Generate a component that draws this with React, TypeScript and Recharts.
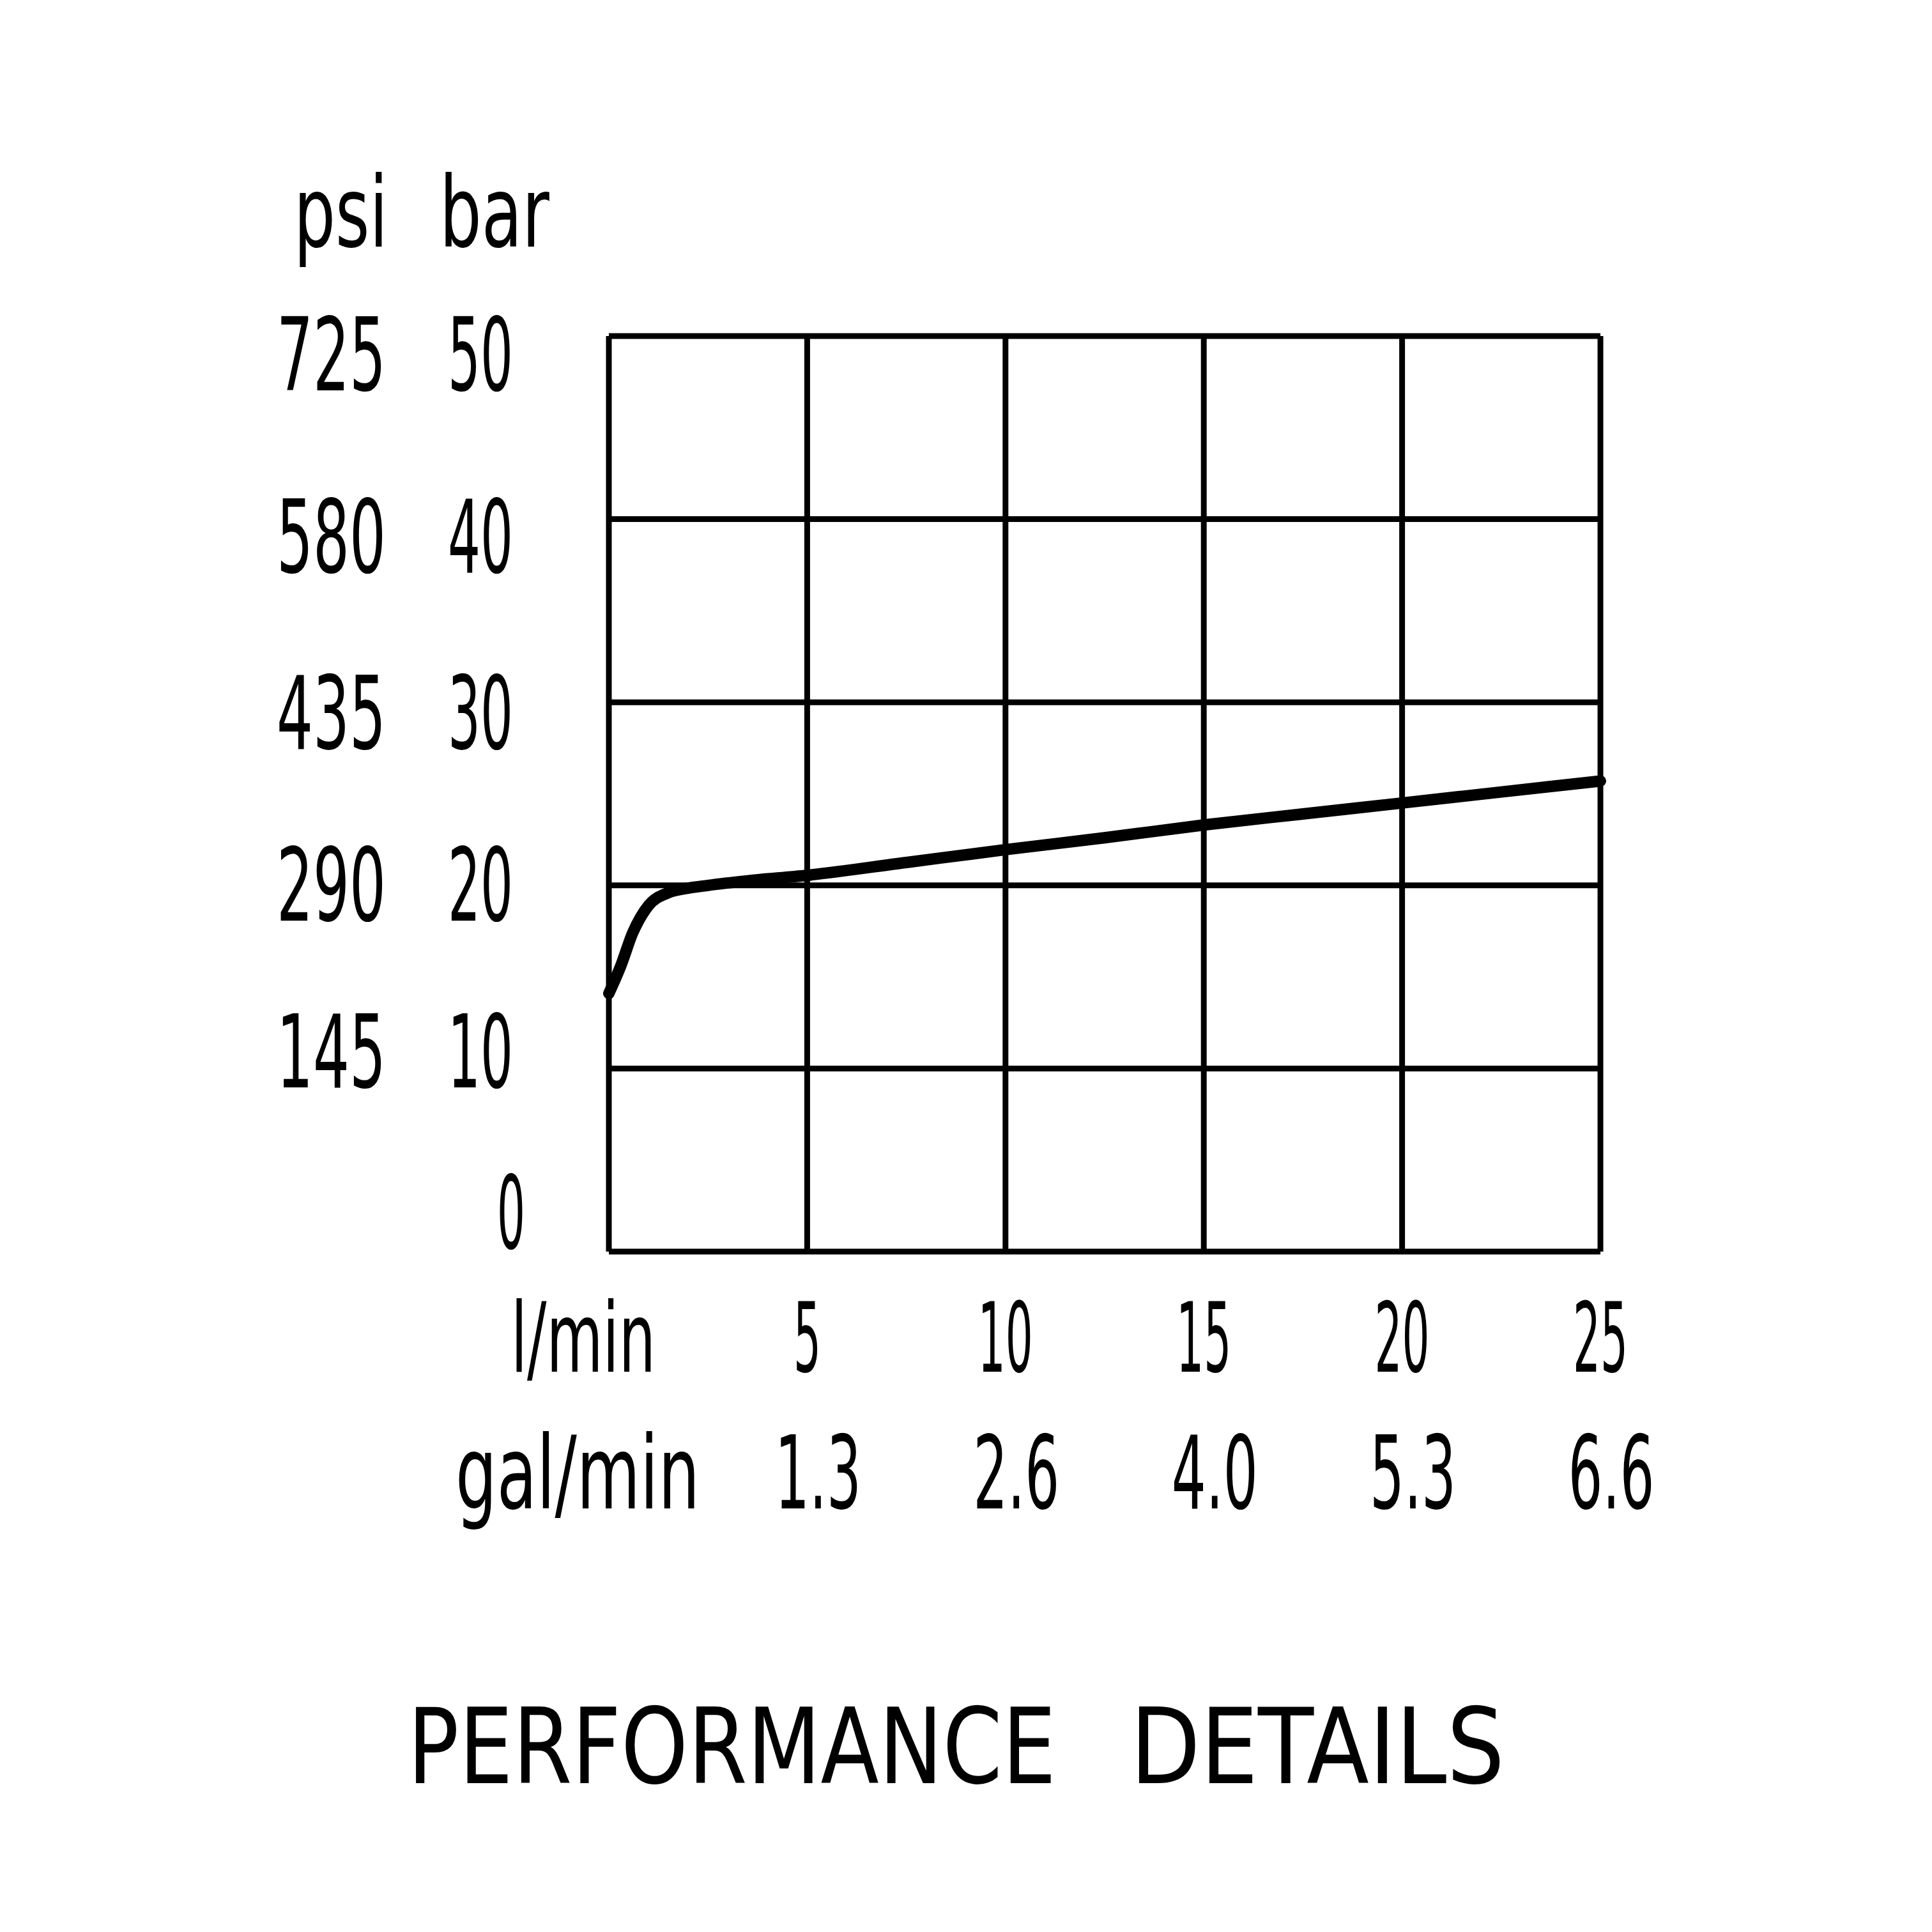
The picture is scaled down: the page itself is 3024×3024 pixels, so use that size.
import { LineChart, Line, XAxis, YAxis, CartesianGrid } from "recharts";

// flow in l/min, pressure in bar
const flow = [0, 0.3, 0.6, 1.0, 1.5, 2.0, 2.5, 3.5, 5, 7.5, 10, 12.5, 15, 17.5, 20, 22.5, 25];
const pressure = [14.1, 15.6, 17.4, 18.9, 19.6, 19.85, 20.0, 20.25, 20.55, 21.25, 21.95, 22.6, 23.3, 23.9, 24.5, 25.1, 25.7];

const flowTicks = [0, 5, 10, 15, 20, 25];
const lpmLabels = ["l/min", "5", "10", "15", "20", "25"];
const galLabels = ["gal/min", "1.3", "2.6", "4.0", "5.3", "6.6"];

const barTicks = [0, 10, 20, 30, 40, 50];
const barLabels = ["0", "10", "20", "30", "40", "50"];
const psiLabels = ["", "145", "290", "435", "580", "725"];

const titleWords = ["PERFORMANCE", "DETAILS"];

const FONT = "'DejaVu Sans', sans-serif";
const TOP = 526;
const LEFT = 953;
const RIGHT = 2505;
const BOTTOM = 1959;
const SIZE = 3024;
const AXIS = 10;
const ROW = 287.2;

const chartData = flow.map((f, i) => ({ flow: f, bar: pressure[i] }));

// the drawing uses a tall, narrow lettering: pick the font size from the
// wanted width, then stretch vertically to the wanted cap height
let ctx: CanvasRenderingContext2D | null = null;
function measure(s: string) {
  if (!ctx) ctx = document.createElement("canvas").getContext("2d");
  if (!ctx) return s.length * 60;
  ctx.font = `100px ${FONT}`;
  return ctx.measureText(s).width;
}

function Label({ x, y, text, width, cap, anchor = "middle" }: any) {
  const fs = (100 * width) / measure(text);
  const sy = cap / (0.729 * fs);
  return (
    <text
      x={x}
      y={y}
      textAnchor={anchor}
      fontFamily={FONT}
      fontSize={fs}
      fill="#000"
      transform={`translate(0 ${y}) scale(1 ${sy}) translate(0 ${-y})`}
    >
      {text}
    </text>
  );
}

function YTick(props: any) {
  const { y, payload } = props;
  const i = barTicks.indexOf(payload.value);
  const t = (y - TOP) / ROW;
  const base = y + 85 + 2 * t - 4 * t * t;
  const bar = barLabels[i];
  const psi = psiLabels[i];
  return (
    <g>
      {psi && <Label x={604} y={base} text={psi} width={psi.length * 57} cap={116} anchor="end" />}
      <Label x={i === 0 ? 822 : 803} y={base} text={bar} width={bar.length === 1 ? 44 : 102} cap={116} anchor="end" />
    </g>
  );
}

function XTick(props: any) {
  const { x, payload } = props;
  const i = flowTicks.indexOf(payload.value);
  const lpm = lpmLabels[i];
  const gal = galLabels[i];
  const first = i === 0;
  return (
    <g>
      <Label
        x={first ? x - 40 : x}
        y={BOTTOM + 188}
        text={lpm}
        width={first ? 226 : lpm.length * 43}
        cap={110}
      />
      <Label
        x={first ? x - 49 : x + 17}
        y={BOTTOM + 402}
        text={gal}
        width={first ? 382 : 135}
        cap={116}
      />
    </g>
  );
}

export default function App() {
  return (
    <div style={{ position: "absolute", left: 0, top: 0, background: "#fff" }}>
      <LineChart
        width={SIZE}
        height={SIZE}
        data={chartData}
        margin={{ top: TOP, left: LEFT - AXIS, right: SIZE - RIGHT, bottom: SIZE - BOTTOM - AXIS }}
      >
        <CartesianGrid stroke="#000" strokeWidth={9} />
        <XAxis
          dataKey="flow"
          type="number"
          domain={[0, 25]}
          ticks={flowTicks}
          height={AXIS}
          tickLine={false}
          axisLine={false}
          tick={<XTick />}
          interval={0}
        />
        <YAxis
          type="number"
          domain={[0, 50]}
          ticks={barTicks}
          width={AXIS}
          tickLine={false}
          axisLine={false}
          tick={<YTick />}
          interval={0}
        />
        <Line
          dataKey="bar"
          type="monotone"
          stroke="#000"
          strokeWidth={18}
          strokeLinecap="round"
          dot={false}
          isAnimationActive={false}
        />
        <g>
          <Label x={460} y={386} text="psi" width={147} cap={112} anchor="start" />
          <Label x={688} y={386} text="bar" width={172} cap={112} anchor="start" />
          <Label x={638} y={2791} text={titleWords[0]} width={1015} cap={120} anchor="start" />
          <Label x={1769} y={2791} text={titleWords[1]} width={586} cap={120} anchor="start" />
        </g>
      </LineChart>
    </div>
  );
}
